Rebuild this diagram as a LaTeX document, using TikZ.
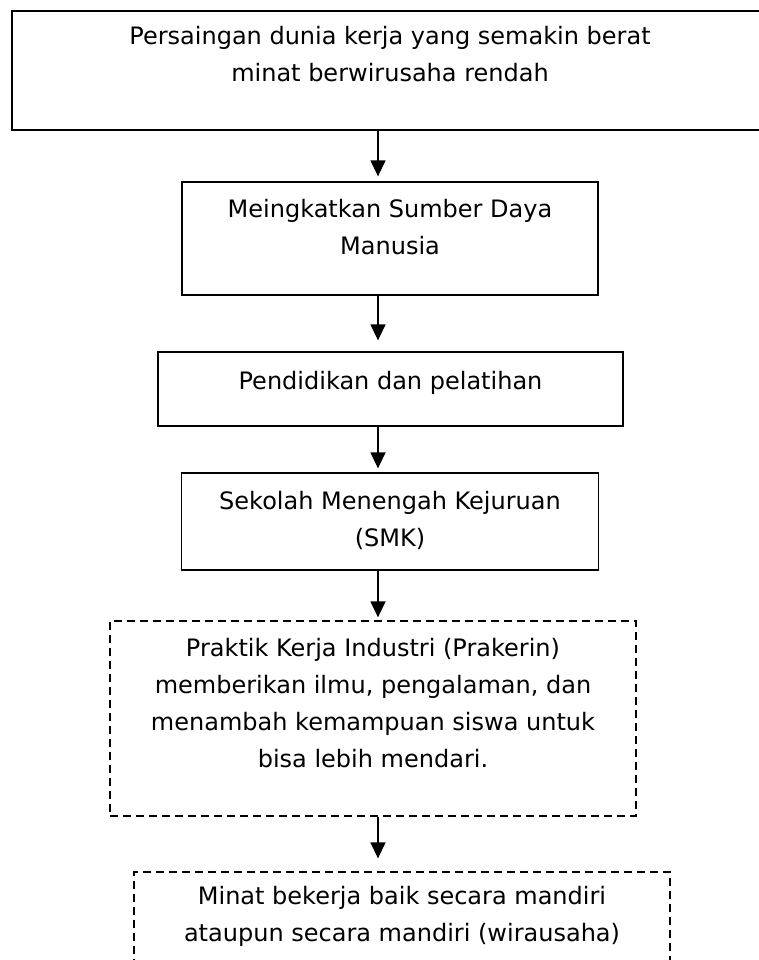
\documentclass[tikz,border=0pt]{standalone}
\usepackage{fontspec}
\setmainfont{DejaVu Sans}
\usetikzlibrary{positioning,arrows.meta}

\begin{document}
\begin{tikzpicture}[x=1pt,y=-1pt,
        kotak/.style={draw,line width=1.3pt,inner sep=0pt},
        putus/.style={kotak,dash pattern=on 8pt off 5pt},
        isi/.style={align=center,inner sep=0pt,font=\fontsize{24}{37}\selectfont},
        panah/.style={-{Triangle[length=16pt,width=15pt]},line width=1.4pt}]
        \clip (0,0) rectangle (759,960);
        \coordinate (ax) at (378,0);
        \node[kotak,minimum width=756pt,minimum height=119pt] (b1) at (390,70.5) {};
        \node[kotak,minimum width=416pt,minimum height=113pt] (b2) at (390,238.5) {};
        \node[kotak,minimum width=465pt,minimum height=74pt] (b3) at (390.5,389) {};
        \node[kotak,minimum width=417pt,minimum height=97pt] (b4) at (390,521.5) {};
        \node[putus,minimum width=526pt,minimum height=195pt] (b5) at (373,718.5) {};
        \node[putus,minimum width=536pt,minimum height=128pt] (b6) at (402,936) {};
        \node[isi,below=16pt of b1.north] (t1) {Persaingan dunia kerja yang semakin berat\\minat berwirusaha rendah};
        \node[isi,below=18pt of b2.north] (t2) {Meingkatkan Sumber Daya\\Manusia};
        \node[isi,below=20pt of b3.north] (t3) {Pendidikan dan pelatihan};
        \node[isi,below=19pt of b4.north] (t4) {Sekolah Menengah Kejuruan\\(SMK)};
        \node[isi,below=18pt of b5.north] (t5) {Praktik Kerja Industri (Prakerin)\\memberikan ilmu, pengalaman, dan\\menambah kemampuan siswa untuk\\bisa lebih mendari.};
        \node[isi,below=15pt of b6.north] (t6) {Minat bekerja baik secara mandiri\\ataupun secara mandiri (wirausaha)};
        \draw[panah,shorten >=5pt] (b1.south -| ax) -- (b2.north -| ax);
        \draw[panah,shorten >=11pt] (b2.south -| ax) -- (b3.north -| ax);
        \draw[panah,shorten >=4pt] (b3.south -| ax) -- (b4.north -| ax);
        \draw[panah,shorten >=3pt] (b4.south -| ax) -- (b5.north -| ax);
        \draw[panah,shorten >=13pt] (b5.south -| ax) -- (b6.north -| ax);
    \end{tikzpicture}
\end{document}
